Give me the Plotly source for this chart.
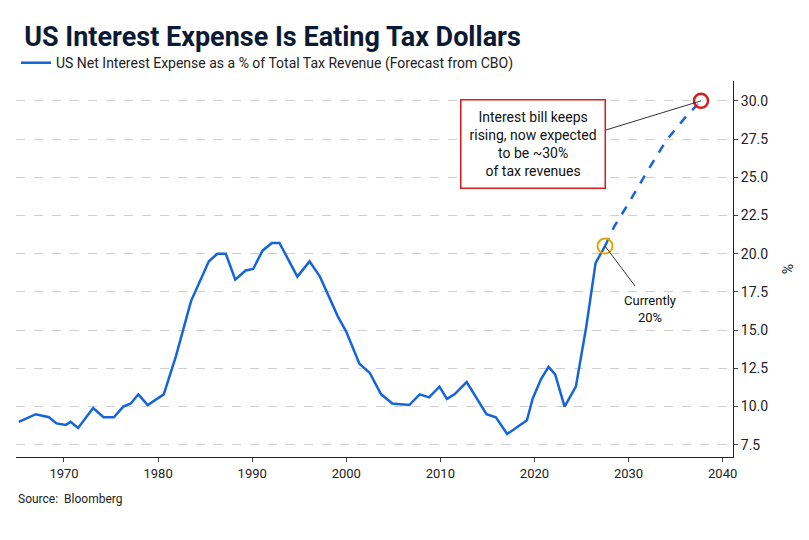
import plotly.graph_objects as go

hist_years = [1965.2,1967.0,1968.4,1969.2,1970.2,1970.7,1971.5,1973.1,1974.2,1975.3,1976.3,1977.1,1977.9,1978.9,1980.6,1981.9,1983.5,1985.4,1986.3,1987.2,1988.2,1989.3,1990.1,1991.1,1992.1,1992.9,1994.8,1996.1,1997.2,1999.1,2000.0,2001.4,2002.5,2003.7,2004.9,2006.7,2007.8,2008.8,2009.9,2010.7,2011.5,2012.8,2014.9,2015.9,2017.1,2019.2,2019.8,2020.7,2021.5,2022.2,2023.2,2024.4,2025.5,2026.5,2027.5]
hist_vals = [9.0,9.5,9.3,8.9,8.8,9.0,8.6,9.9,9.3,9.3,10.0,10.2,10.8,10.1,10.8,13.3,16.9,19.5,20.0,20.0,18.3,18.9,19.0,20.2,20.7,20.7,18.5,19.5,18.5,15.9,14.9,12.8,12.2,10.8,10.2,10.1,10.8,10.6,11.3,10.5,10.8,11.6,9.5,9.3,8.2,9.1,10.5,11.8,12.6,12.1,10.0,11.3,15.2,19.4,20.5]
fc_years = [2027.5,2028.5,2030.0,2032.0,2034.0,2036.0,2037.7]
fc_vals = [20.5,21.8,23.3,25.4,27.4,28.9,30.0]
x_ticks = [1970,1980,1990,2000,2010,2020,2030,2040]
y_ticks = [7.5,10,12.5,15,17.5,20,22.5,25,27.5,30]

blue = "#1565d8"
fig = go.Figure()
fig.add_trace(go.Scatter(x=hist_years, y=hist_vals, mode="lines",
    line=dict(color=blue, width=2.5), name="US Net Interest Expense as a % of Total Tax Revenue (Forecast from CBO)"))
fig.add_trace(go.Scatter(x=fc_years, y=fc_vals, mode="lines",
    line=dict(color=blue, width=2.5, dash="dash"), showlegend=False))
fig.add_trace(go.Scatter(x=[fc_years[0]], y=[fc_vals[0]], mode="markers",
    marker=dict(size=15, color="rgba(0,0,0,0)", line=dict(color="#e0a800", width=2)), showlegend=False))
fig.add_trace(go.Scatter(x=[fc_years[-1]], y=[fc_vals[-1]], mode="markers",
    marker=dict(size=14, color="rgba(255,255,255,0.6)", line=dict(color="#d81b1b", width=2.5)), showlegend=False))

fig.add_annotation(x=fc_years[-1], y=fc_vals[-1], ax=2025.5, ay=27.7, axref="x", ayref="y",
    showarrow=True, arrowhead=0, arrowwidth=1, arrowcolor="#333", text="")
fig.add_annotation(x=2019.8, y=27.2, xref="x", yref="y", showarrow=False,
    text="Interest bill keeps<br>rising, now expected<br>to be ~30%<br>of tax revenues",
    font=dict(size=14, color="#111"), bgcolor="white", bordercolor="#d81b1b", borderwidth=1.5, borderpad=8)
fig.add_annotation(x=fc_years[0], y=fc_vals[0], ax=2030.8, ay=17.8, axref="x", ayref="y",
    showarrow=True, arrowhead=0, arrowwidth=1, arrowcolor="#333", text="")
fig.add_annotation(x=2032.3, y=16.4, showarrow=False, text="Currently<br>20%",
    font=dict(size=13, color="#111"))

fig.update_layout(
    width=809, height=540, plot_bgcolor="white", paper_bgcolor="white",
    font=dict(family="Roboto, Noto Sans, sans-serif", color="#222"),
    margin=dict(l=8, r=84, t=73, b=91),
    title=dict(text="<b>US Interest Expense Is Eating Tax Dollars</b>", x=0.02, xanchor="left", y=0.965,
               font=dict(size=27, color="#0d1a33")),
    legend=dict(x=0, y=1.005, xanchor="left", yanchor="bottom", font=dict(size=14), bgcolor="rgba(0,0,0,0)"),
    xaxis=dict(range=[1964.9, 2041.1], tickvals=x_ticks, showgrid=False, showline=True, linecolor="#222",
               ticks="outside", ticklen=4, tickfont=dict(size=13)),
    yaxis=dict(range=[6.7, 31.3], tickvals=y_ticks, tickformat=".1f", side="right", showgrid=True,
               gridcolor="#cfcfcf", griddash="dash", showline=True, linecolor="#222", ticks="outside",
               ticklen=4, tickfont=dict(size=14), zeroline=False,
               title=dict(text="%", font=dict(size=14))),
)
fig.add_annotation(x=0.0, y=-0.135, xref="paper", yref="paper", xanchor="left", showarrow=False,
                   text="Source:  Bloomberg", font=dict(size=12, color="#222"))
fig.write_html("out.html")
